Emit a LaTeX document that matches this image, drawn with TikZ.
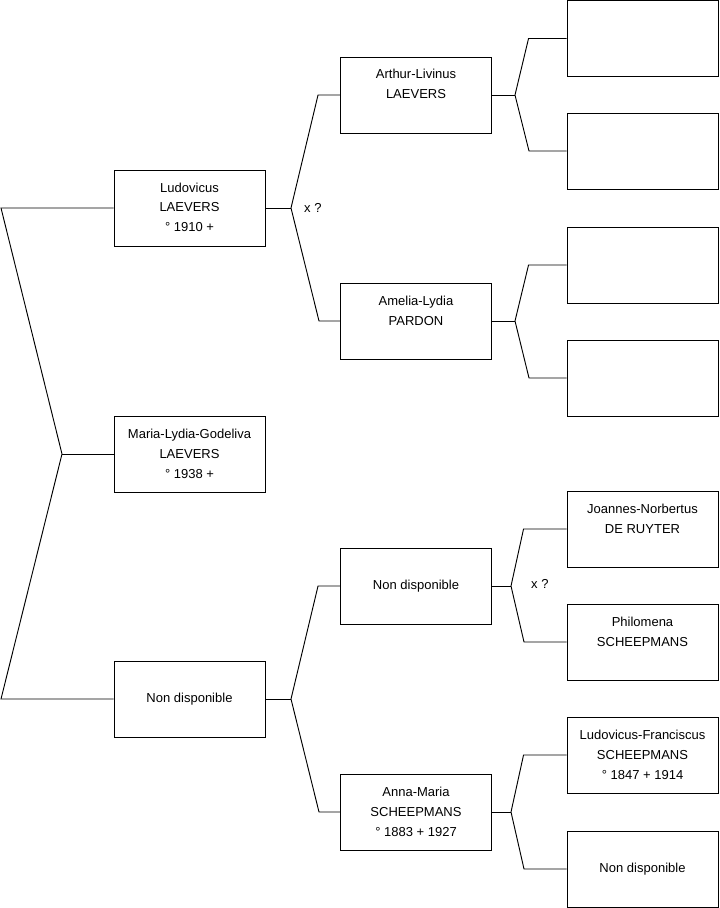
\documentclass[tikz,border=0pt]{standalone}
\usepackage{fontspec}
\setmainfont{Liberation Sans}
\usetikzlibrary{positioning}

% first name, surname, dates
\newcommand{\pers}[3]{\strut #1\\#2\\\strut #3}

\begin{document}
\begin{tikzpicture}[x=0.03cm, y=-0.03cm,
        person/.style={rectangle, draw=black, line width=0.8pt, minimum width=4.53cm, minimum height=2.28cm, align=center, inner sep=0pt, font=\fontsize{11.1}{17.07}\selectfont},
        link/.style={line width=0.8pt, color=black},
        marr/.style={anchor=west, inner sep=0pt, font=\fontsize{11.1}{13}\selectfont}
    ]
        \useasboundingbox (0,0) rectangle (719,908);

        % generation 1
        \node[person] (ludo) at (189.5, 208) {\pers{Ludovicus}{LAEVERS}{° 1910 +}};
        \node[person] (maria) at (189.5, 454) {\pers{Maria-Lydia-Godeliva}{LAEVERS}{° 1938 +}};
        \node[person] (nd1) at (189.5, 699) {Non disponible};

        % generation 2
        \node[person] (arthur) at (416, 95) {\pers{Arthur-Livinus}{LAEVERS}{}};
        \node[person] (amelia) at (416, 321) {\pers{Amelia-Lydia}{PARDON}{}};
        \node[person] (nd2) at (416, 586) {Non disponible};
        \node[person] (anna) at (416, 812) {\pers{Anna-Maria}{SCHEEPMANS}{° 1883 + 1927}};

        % generation 3
        \node[person] (arthurf) at (642.5, 38.5) {};
        \node[person] (arthurm) at (642.5, 151) {};
        \node[person] (ameliaf) at (642.5, 265) {};
        \node[person] (ameliam) at (642.5, 378) {};
        \node[person] (joannes) at (642.5, 529) {\pers{Joannes-Norbertus}{DE RUYTER}{}};
        \node[person] (philo) at (642.5, 642) {\pers{Philomena}{SCHEEPMANS}{}};
        \node[person] (ludofr) at (642.5, 755) {\pers{Ludovicus-Franciscus}{SCHEEPMANS}{° 1847 + 1914}};
        \node[person] (nd3) at (642.5, 869) {Non disponible};

        % marriage marks
        \node[marr] (xq1) at (304, 208) {x ?};
        \node[marr] (xq2) at (531, 584) {x ?};

        % forks
        \coordinate (k0) at (62, 454);
        \coordinate (k0t) at (1, 208);
        \coordinate (k0b) at (1, 699);
        \coordinate (k1) at (291, 208);
        \coordinate (k6) at (291, 699);
        \coordinate (k2) at (515, 95);
        \coordinate (k3) at (515, 321);
        \coordinate (k4) at (511, 586);
        \coordinate (k5) at (511, 812);

        \draw[link] (ludo.west) -- (k0t) -- (k0) -- (k0b) -- (nd1.west);
        \draw[link] (k0) -- (maria.west);

        \draw[link] (ludo.east) -- (k1);
        \draw[link] (arthur.west) -- ++(-22,0) -- (k1) -- ++(28,113) -- (amelia.west);
        \draw[link] (nd1.east) -- (k6);
        \draw[link] (nd2.west) -- ++(-22,0) -- (k6) -- ++(28,113) -- (anna.west);

        \draw[link] (arthur.east) -- (k2);
        \draw[link] (arthurf.west) -- ++(-38,0) -- (k2) -- ++(14,56) -- (arthurm.west);
        \draw[link] (amelia.east) -- (k3);
        \draw[link] (ameliaf.west) -- ++(-38,0) -- (k3) -- ++(14,57) -- (ameliam.west);
        \draw[link] (nd2.east) -- (k4);
        \draw[link] (joannes.west) -- ++(-43,0) -- (k4) -- ++(13,56) -- (philo.west);
        \draw[link] (anna.east) -- (k5);
        \draw[link] (ludofr.west) -- ++(-43,0) -- (k5) -- ++(13,57) -- (nd3.west);
    \end{tikzpicture}
\end{document}
